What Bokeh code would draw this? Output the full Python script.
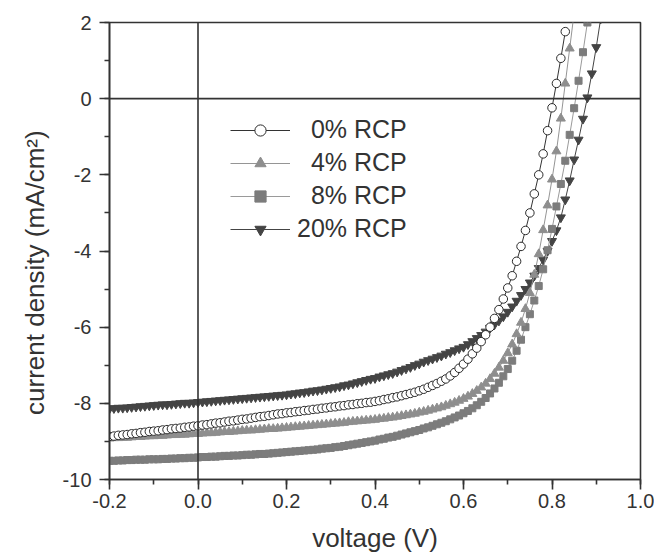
from bokeh.plotting import figure
from bokeh.models import (Range1d, Span, Legend, LegendItem, SingleIntervalTicker,
                          PrintfTickFormatter, ColumnDataSource)
from bokeh.embed import file_html
from bokeh.resources import INLINE

voltage = [-0.20, -0.19, -0.18, -0.17, -0.16, -0.15, -0.14, -0.13, -0.12, -0.11,
           -0.10, -0.09, -0.08, -0.07, -0.06, -0.05, -0.04, -0.03, -0.02, -0.01,
           0.00, 0.01, 0.02, 0.03, 0.04, 0.05, 0.06, 0.07, 0.08, 0.09,
           0.10, 0.11, 0.12, 0.13, 0.14, 0.15, 0.16, 0.17, 0.18, 0.19,
           0.20, 0.21, 0.22, 0.23, 0.24, 0.25, 0.26, 0.27, 0.28, 0.29,
           0.30, 0.31, 0.32, 0.33, 0.34, 0.35, 0.36, 0.37, 0.38, 0.39,
           0.40, 0.41, 0.42, 0.43, 0.44, 0.45, 0.46, 0.47, 0.48, 0.49,
           0.50, 0.51, 0.52, 0.53, 0.54, 0.55, 0.56, 0.57, 0.58, 0.59,
           0.60, 0.61, 0.62, 0.63, 0.64, 0.65, 0.66, 0.67, 0.68, 0.69,
           0.70, 0.71, 0.72, 0.73, 0.74, 0.75, 0.76, 0.77, 0.78, 0.79,
           0.80, 0.81, 0.82, 0.83, 0.84, 0.85, 0.86, 0.87, 0.88, 0.89,
           0.90, 0.91]

j_0 = [-8.87, -8.86, -8.84, -8.83, -8.82, -8.80, -8.79, -8.77, -8.76, -8.74,
       -8.73, -8.72, -8.70, -8.69, -8.67, -8.66, -8.65, -8.63, -8.62, -8.60,
       -8.59, -8.57, -8.56, -8.54, -8.52, -8.51, -8.49, -8.47, -8.46, -8.44,
       -8.42, -8.41, -8.39, -8.37, -8.35, -8.34, -8.32, -8.30, -8.28, -8.27,
       -8.25, -8.24, -8.22, -8.21, -8.19, -8.18, -8.16, -8.15, -8.13, -8.12,
       -8.10, -8.09, -8.07, -8.06, -8.04, -8.03, -8.01, -8.00, -7.98, -7.97,
       -7.95, -7.93, -7.90, -7.88, -7.85, -7.83, -7.80, -7.77, -7.74, -7.71,
       -7.67, -7.63, -7.58, -7.53, -7.48, -7.42, -7.36, -7.28, -7.19, -7.08,
       -6.97, -6.84, -6.70, -6.55, -6.38, -6.20, -6.00, -5.77, -5.54, -5.26,
       -4.97, -4.65, -4.27, -3.88, -3.46, -3.00, -2.50, -2.00, -1.45, -0.84,
       -0.24, 0.40, 1.06, 1.76]

j_4 = [-8.92, -8.91, -8.91, -8.90, -8.90, -8.89, -8.88, -8.88, -8.87, -8.86,
       -8.86, -8.85, -8.85, -8.84, -8.83, -8.83, -8.82, -8.82, -8.81, -8.80,
       -8.80, -8.79, -8.78, -8.78, -8.77, -8.76, -8.75, -8.75, -8.74, -8.73,
       -8.72, -8.71, -8.71, -8.70, -8.69, -8.68, -8.67, -8.67, -8.66, -8.65,
       -8.64, -8.63, -8.62, -8.61, -8.60, -8.59, -8.58, -8.57, -8.56, -8.55,
       -8.54, -8.53, -8.52, -8.51, -8.49, -8.48, -8.47, -8.46, -8.45, -8.44,
       -8.43, -8.41, -8.40, -8.38, -8.37, -8.35, -8.33, -8.31, -8.29, -8.27,
       -8.24, -8.22, -8.19, -8.16, -8.13, -8.10, -8.06, -8.02, -7.98, -7.93,
       -7.88, -7.82, -7.75, -7.67, -7.58, -7.48, -7.36, -7.22, -7.06, -6.88,
       -6.68, -6.45, -6.18, -5.88, -5.52, -5.10, -4.62, -4.08, -3.45, -2.80,
       -2.12, -1.38, -0.52, 0.40, 1.32, 2.25]

j_8 = [-9.51, -9.51, -9.50, -9.50, -9.49, -9.49, -9.48, -9.48, -9.48, -9.47,
       -9.47, -9.47, -9.46, -9.46, -9.45, -9.45, -9.44, -9.44, -9.43, -9.43,
       -9.42, -9.41, -9.41, -9.40, -9.40, -9.39, -9.38, -9.38, -9.37, -9.37,
       -9.36, -9.35, -9.35, -9.34, -9.33, -9.33, -9.32, -9.31, -9.30, -9.29,
       -9.28, -9.27, -9.26, -9.25, -9.24, -9.23, -9.22, -9.21, -9.19, -9.18,
       -9.17, -9.15, -9.14, -9.12, -9.10, -9.08, -9.06, -9.04, -9.02, -9.00,
       -8.98, -8.95, -8.93, -8.90, -8.88, -8.85, -8.82, -8.79, -8.76, -8.73,
       -8.70, -8.66, -8.63, -8.59, -8.55, -8.51, -8.47, -8.42, -8.37, -8.32,
       -8.26, -8.20, -8.13, -8.05, -7.96, -7.86, -7.74, -7.61, -7.46, -7.29,
       -7.10, -6.88, -6.62, -6.33, -6.00, -5.66, -5.30, -4.92, -4.48, -3.98,
       -3.42, -2.83, -2.24, -1.63, -0.95, -0.25, 0.47, 1.22, 2.00]

j_20 = [-8.14, -8.13, -8.12, -8.12, -8.11, -8.10, -8.09, -8.08, -8.07, -8.06,
        -8.05, -8.04, -8.03, -8.03, -8.02, -8.01, -8.00, -7.99, -7.99, -7.98,
        -7.97, -7.96, -7.95, -7.94, -7.93, -7.92, -7.91, -7.90, -7.89, -7.88,
        -7.87, -7.86, -7.85, -7.84, -7.83, -7.82, -7.81, -7.80, -7.79, -7.78,
        -7.77, -7.75, -7.74, -7.72, -7.71, -7.69, -7.67, -7.66, -7.64, -7.62,
        -7.60, -7.58, -7.56, -7.53, -7.51, -7.48, -7.45, -7.42, -7.39, -7.36,
        -7.34, -7.30, -7.27, -7.24, -7.21, -7.17, -7.13, -7.09, -7.05, -7.00,
        -6.96, -6.91, -6.87, -6.83, -6.79, -6.75, -6.70, -6.66, -6.61, -6.56,
        -6.52, -6.45, -6.37, -6.29, -6.21, -6.12, -6.02, -5.93, -5.83, -5.72,
        -5.60, -5.46, -5.31, -5.16, -5.00, -4.83, -4.65, -4.45, -4.23, -4.00,
        -3.74, -3.46, -3.12, -2.65, -2.15, -1.60, -1.08, -0.53, 0.03, 0.66,
        1.35, 2.10]

labels = ["\u20070% RCP", "\u20074% RCP", "\u20078% RCP", "20% RCP"]
x_title = "voltage (V)"
y_title = "current density (mA/cm\u00b2)"

FONT = "Liberation Sans"
TXT = "#333333"

p = figure(width=654, height=560, output_backend="svg", toolbar_location=None,
           x_range=Range1d(-0.2, 1.0), y_range=Range1d(-10, 2),
           min_border_left=109, min_border_right=14, min_border_top=22,
           min_border_bottom=81)
p.grid.visible = False
p.background_fill_color = "white"
p.border_fill_color = "white"
p.outline_line_color = "#333333"
p.outline_line_width = 1.6

p.xaxis.ticker = SingleIntervalTicker(interval=0.2, num_minor_ticks=2)
p.yaxis.ticker = SingleIntervalTicker(interval=2, num_minor_ticks=2)
p.xaxis.formatter = PrintfTickFormatter(format="%.1f")
p.yaxis.formatter = PrintfTickFormatter(format="%d")
for ax in (p.xaxis, p.yaxis):
    ax.axis_line_color = "#333333"
    ax.axis_line_width = 1.6
    ax.major_tick_line_color = "#333333"
    ax.major_tick_line_width = 1.6
    ax.minor_tick_line_color = "#333333"
    ax.minor_tick_line_width = 1.6
    ax.major_tick_out = 10
    ax.major_tick_in = 0
    ax.minor_tick_out = 5
    ax.minor_tick_in = 0
    ax.major_label_text_font = FONT
    ax.major_label_text_font_size = "20px"
    ax.major_label_text_color = TXT
    ax.axis_label_text_font = FONT
    ax.axis_label_text_font_size = "26px"
    ax.axis_label_text_font_style = "normal"
    ax.axis_label_text_color = TXT
p.xaxis.axis_label = x_title
p.yaxis.axis_label = y_title + "\u00a0" * 6
p.xaxis.major_label_standoff = 4
p.xaxis.axis_label_standoff = 12
p.yaxis.major_label_standoff = 8
p.yaxis.axis_label_standoff = 10

p.add_layout(Span(location=0, dimension="height", line_color="#333333", line_width=1.6))
p.add_layout(Span(location=0, dimension="width", line_color="#333333", line_width=1.6))

def series(j, line_color, marker, size, fill, mline):
    src = ColumnDataSource(dict(v=voltage[:len(j)], j=j))
    ln = p.line("v", "j", source=src, line_color=line_color, line_width=1)
    sc = p.scatter("v", "j", source=src, marker=marker, size=size,
                   fill_color=fill, line_color=mline, line_width=1)
    return ln, sc

r20 = series(j_20, "#444444", "inverted_triangle", 9, "#444444", "#444444")
r8 = series(j_8, "#9a9a9a", "square", 7, "#7c7c7c", "#7c7c7c")
r4 = series(j_4, "#959595", "triangle", 9, "#8e8e8e", "#8e8e8e")
r0 = series(j_0, "#333333", "circle", 8.5, "white", "#2a2a2a")

legend = Legend(items=[LegendItem(label=labels[0], renderers=list(r0)),
                       LegendItem(label=labels[1], renderers=list(r4)),
                       LegendItem(label=labels[2], renderers=list(r8)),
                       LegendItem(label=labels[3], renderers=list(r20))],
                location=(121, 236), orientation="vertical")
legend.background_fill_alpha = 0
legend.border_line_alpha = 0
legend.padding = 0
legend.margin = 0
legend.spacing = 4
legend.glyph_width = 60
legend.glyph_height = 28
legend.label_height = 28
legend.label_standoff = 7
legend.label_text_font = FONT
legend.label_text_font_size = "25px"
legend.label_text_color = TXT
p.add_layout(legend)

open("out.html", "w").write(file_html(p, INLINE))
